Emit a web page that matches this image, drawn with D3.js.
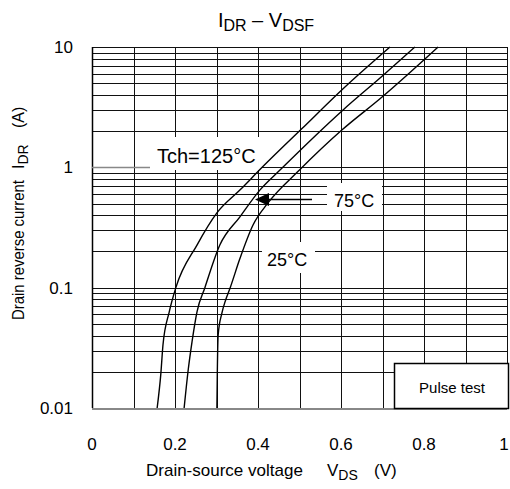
<!DOCTYPE html>
<meta charset="utf-8">
<style>
  body { margin: 0; background: #fff; }
  text { font-family: "Liberation Sans", Arial, sans-serif; fill: #000; }
  .grid line { stroke: #111; stroke-width: 1; shape-rendering: crispEdges; }
  .curve { fill: none; stroke: #000; stroke-width: 1.4; }
</style>
<body>
<div id="chart"></div>
<script src="https://d3js.org/d3.v7.min.js"></script>
<script>

// drain-source voltage (V) and drain reverse current (A) for each channel temperature
var vds125 = [0.157, 0.166, 0.171, 0.186, 0.202, 0.253, 0.301, 0.357, 0.41, 0.506, 0.605, 0.718];
var idr125 = [0.01, 0.0195, 0.0334, 0.0627, 0.1, 0.226, 0.418, 0.65, 1.0, 2.1, 4.5, 10];

var vds75 = [0.222, 0.232, 0.241, 0.253, 0.272, 0.308, 0.356, 0.405, 0.453, 0.605, 0.701, 0.778];
var idr75 = [0.01, 0.021, 0.0355, 0.063, 0.1, 0.226, 0.386, 0.65, 0.95, 3.0, 5.8, 10];

var vds25 = [0.301, 0.302, 0.304, 0.313, 0.322, 0.333, 0.356, 0.388, 0.424, 0.5, 0.602, 0.699, 0.834];
var idr25 = [0.01, 0.02, 0.0405, 0.0615, 0.079, 0.1, 0.173, 0.332, 0.506, 0.95, 2.04, 3.84, 10];

var xTicks = [0, 0.2, 0.4, 0.6, 0.8, 1];
var xTickLabels = ["0", "0.2", "0.4", "0.6", "0.8", "1"];
var yTicks = [0.01, 0.1, 1, 10];
var yTickLabels = ["0.01", "0.1", "1", "10"];

var width = 510,
    height = 489;

var x = d3.scaleLinear()
    .domain([0, 1])
    .range([92, 507]);

var y = d3.scaleLog()
    .domain([0.01, 10])
    .range([408, 47]);

var svg = d3.select("#chart").append("svg")
    .attr("width", width)
    .attr("height", height);

// grid
var grid = svg.append("g").attr("class", "grid");

grid.selectAll("line.v")
    .data(d3.range(0, 11).map(function(i) { return i / 10; }))
  .enter().append("line")
    .attr("class", "v")
    .attr("x1", function(d) { return Math.round(x(d)) + 0.5; })
    .attr("x2", function(d) { return Math.round(x(d)) + 0.5; })
    .attr("y1", y(10))
    .attr("y2", y(0.01));

var minor = [];
[0.01, 0.1, 1].forEach(function(dec) {
  for (var k = 1; k < 10; k++) minor.push(dec * k);
});
minor.push(10);

grid.selectAll("line.h")
    .data(minor)
  .enter().append("line")
    .attr("class", "h")
    .attr("x1", x(0))
    .attr("x2", x(1))
    .attr("y1", function(d) { return Math.round(y(d)) + 0.5; })
    .attr("y2", function(d) { return Math.round(y(d)) + 0.5; })
    .style("stroke", function(d) { return d === 0.01 ? "#888" : null; })
    .style("stroke-width", function(d) { return d === 0.01 ? 2 : null; });

// left axis a bit heavier
svg.append("line")
    .attr("x1", x(0) + 0.5).attr("x2", x(0) + 0.5)
    .attr("y1", y(10)).attr("y2", y(0.01))
    .style("stroke", "#000").style("stroke-width", 1.5);

// tick labels
svg.selectAll("text.xt")
    .data(xTicks)
  .enter().append("text")
    .attr("class", "xt")
    .attr("x", function(d) { return d === 1 ? x(d) - 3 : x(d); })
    .attr("y", 450)
    .attr("text-anchor", "middle")
    .style("font-size", "17px")
    .text(function(d, i) { return xTickLabels[i]; });

svg.selectAll("text.yt")
    .data(yTicks)
  .enter().append("text")
    .attr("class", "yt")
    .attr("x", 73)
    .attr("y", function(d) { return y(d); })
    .attr("dy", "0.36em")
    .attr("text-anchor", "end")
    .style("font-size", "17px")
    .text(function(d, i) { return yTickLabels[i]; });

// label boxes (white, hide grid behind)
function box(x0, y0, w, h) {
  svg.append("rect")
      .attr("x", x0).attr("y", y0)
      .attr("width", w).attr("height", h)
      .attr("fill", "#fff");
}
box(150, 137, 112, 33);
box(327, 183, 55, 28);
box(262, 242, 53, 31);

// grey leader into the Tch label
svg.append("line")
    .attr("x1", x(0)).attr("x2", 150)
    .attr("y1", Math.round(y(1)) + 0.5).attr("y2", Math.round(y(1)) + 0.5)
    .style("stroke", "#888").style("stroke-width", 1.5);

// curves
var line = d3.line()
    .x(function(d) { return x(d[0]); })
    .y(function(d) { return y(d[1]); })
    .curve(d3.curveMonotoneX);

[[vds125, idr125], [vds75, idr75], [vds25, idr25]].forEach(function(s) {
  svg.append("path")
      .attr("class", "curve")
      .attr("d", line(d3.zip(s[0], s[1])));
});

// annotations
svg.append("text")
    .attr("x", 157).attr("y", 163)
    .style("font-size", "20px")
    .text("Tch=125°C");

svg.append("text")
    .attr("x", 334).attr("y", 207)
    .style("font-size", "18px")
    .text("75°C");

svg.append("text")
    .attr("x", 267).attr("y", 266)
    .style("font-size", "18px")
    .text("25°C");

// arrow to 75°C curve
svg.append("line")
    .attr("x1", 266).attr("x2", 312)
    .attr("y1", 199.5).attr("y2", 199.5)
    .style("stroke", "#000").style("stroke-width", 1.3);
svg.append("path")
    .attr("d", "M255,199.5 L269,193 L269,206 Z")
    .attr("fill", "#000");

// pulse test box
svg.append("rect")
    .attr("x", 394.5).attr("y", 363.5)
    .attr("width", 114).attr("height", 45)
    .attr("fill", "#fff")
    .attr("stroke", "#000")
    .attr("stroke-width", 1.5);
svg.append("text")
    .attr("x", 452).attr("y", 393)
    .attr("text-anchor", "middle")
    .style("font-size", "15px")
    .text("Pulse test");

// title
var title = svg.append("text")
    .attr("x", 266).attr("y", 27)
    .attr("text-anchor", "middle")
    .style("font-size", "20px");
title.append("tspan").text("I");
title.append("tspan").attr("dy", 4).style("font-size", "16px").text("DR");
title.append("tspan").attr("dy", -4).text(" – V");
title.append("tspan").attr("dy", 4).style("font-size", "16px").text("DSF");

// x axis title
var xt = svg.append("text")
    .attr("x", 146).attr("y", 476)
    .style("font-size", "17px");
xt.append("tspan").text("Drain-source voltage");
xt.append("tspan").attr("x", 327).text("V");
xt.append("tspan").attr("dy", 4).style("font-size", "14px").text("DS");
xt.append("tspan").attr("x", 374).attr("dy", -4).text("(V)");

// y axis title
var yt = svg.append("text")
    .attr("transform", "translate(24,320) rotate(-90)")
    .style("font-size", "16px");
yt.append("tspan").attr("textLength", 140).attr("lengthAdjust", "spacingAndGlyphs").text("Drain reverse current");
yt.append("tspan").attr("x", 151).text("I");
yt.append("tspan").attr("dy", 4).style("font-size", "14px").text("DR");
yt.append("tspan").attr("x", 192).attr("dy", -4).text("(A)");

</script>
</body>
